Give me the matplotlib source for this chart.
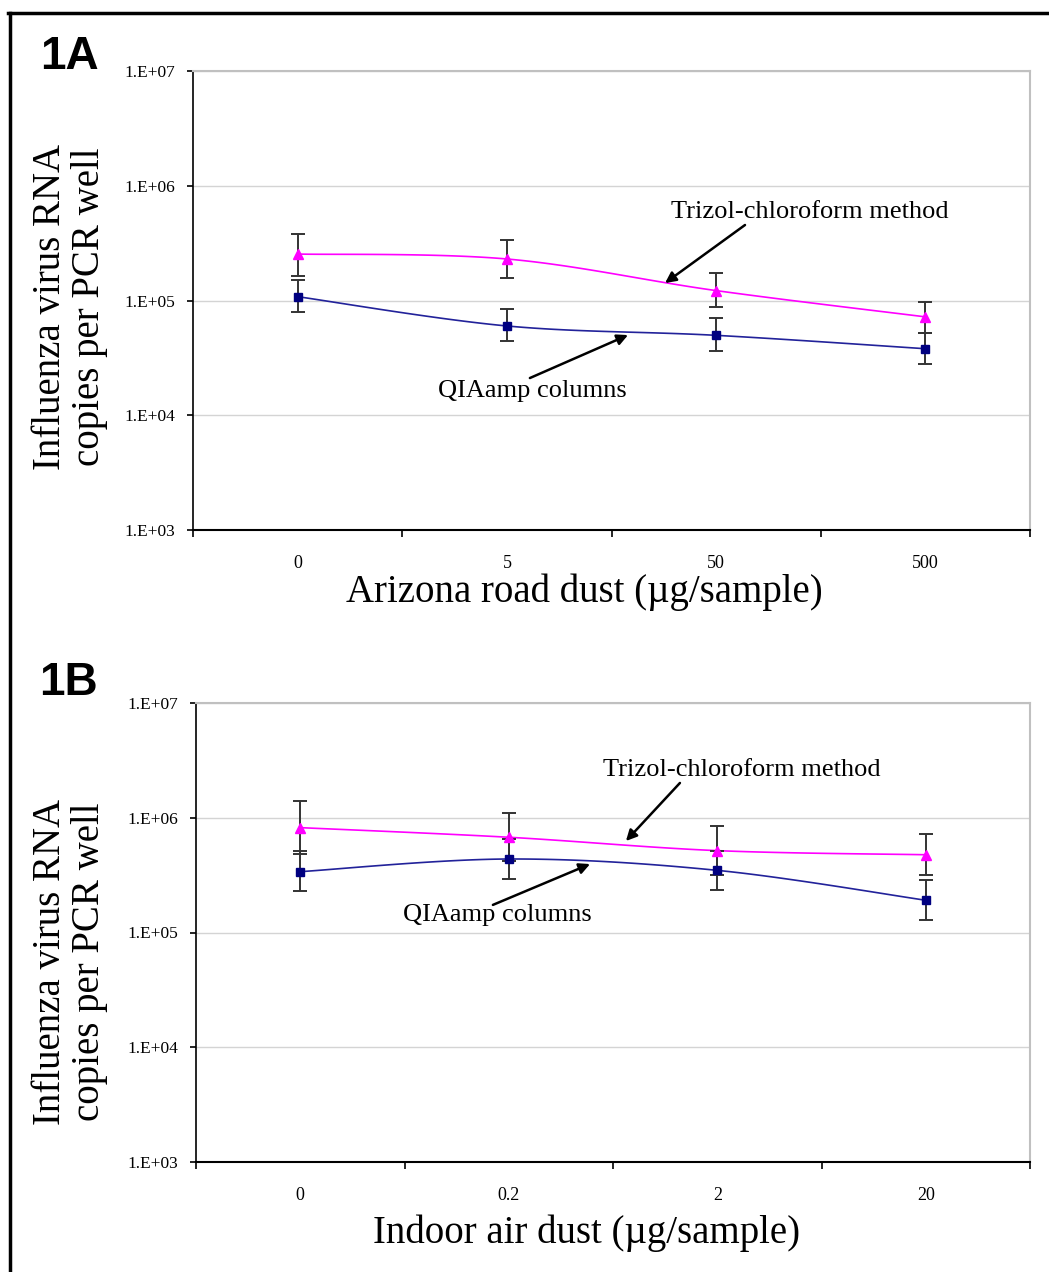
import numpy as np
import matplotlib
matplotlib.use('Agg')
import matplotlib.pyplot as plt
from matplotlib.lines import Line2D
from matplotlib.ticker import FixedLocator, FuncFormatter

plt.rcParams['font.family'] = ['Liberation Serif', 'DejaVu Serif']

# panel 1A - Arizona road dust
dust_a = ['0', '5', '50', '500']
trizol_a = [2.54e5, 2.30e5, 1.22e5, 7.2e4]
trizol_a_hi = [3.78e5, 3.37e5, 1.75e5, 9.8e4]
trizol_a_lo = [1.64e5, 1.57e5, 8.8e4, 5.2e4]
qia_a = [1.08e5, 6.0e4, 4.97e4, 3.8e4]
qia_a_hi = [1.51e5, 8.4e4, 7.0e4, 5.2e4]
qia_a_lo = [8.0e4, 4.46e4, 3.6e4, 2.78e4]

# panel 1B - indoor air dust
dust_b = ['0', '0.2', '2', '20']
trizol_b = [8.2e5, 6.76e5, 5.17e5, 4.76e5]
trizol_b_hi = [1.39e6, 1.1e6, 8.4e5, 7.26e5]
trizol_b_lo = [4.83e5, 4.2e5, 3.17e5, 3.16e5]
qia_b = [3.39e5, 4.37e5, 3.48e5, 1.91e5]
qia_b_hi = [5.1e5, 6.5e5, 5.14e5, 2.88e5]
qia_b_lo = [2.29e5, 2.93e5, 2.36e5, 1.29e5]

PINK = '#FF00FF'
NAVY = '#000080'


def smooth(x, y, n=40):
    # excel-style smoothed line (catmull-rom / bezier), done in log space
    x = np.asarray(x, float)
    ly = np.log10(np.asarray(y, float))
    pts = np.column_stack([x, ly])
    out = []
    for i in range(len(pts) - 1):
        p0 = pts[max(i - 1, 0)]
        p1 = pts[i]
        p2 = pts[i + 1]
        p3 = pts[min(i + 2, len(pts) - 1)]
        c1 = p1 + (p2 - p0) / 6.0
        c2 = p2 - (p3 - p1) / 6.0
        t = np.linspace(0, 1, n)[:, None]
        seg = ((1 - t) ** 3) * p1 + 3 * ((1 - t) ** 2) * t * c1 + 3 * (1 - t) * t ** 2 * c2 + t ** 3 * p2
        out.append(seg if i == 0 else seg[1:])
    out = np.vstack(out)
    return out[:, 0], 10 ** out[:, 1]


def draw_series(ax, y, lo, hi, color, marker, ms, line_color):
    x = np.arange(len(y))
    y = np.array(y)
    sx, sy = smooth(x, y)
    ax.plot(sx, sy, color=line_color, lw=1.2, zorder=3)
    ax.errorbar(x, y, yerr=[y - np.array(lo), np.array(hi) - y], fmt='none',
                ecolor='#333333', elinewidth=1.4, capsize=5, capthick=1.4, zorder=4)
    ax.plot(x, y, linestyle='none', marker=marker, ms=ms, color=color,
            markeredgecolor=color, zorder=5)


def setup_axes(ax, cats):
    ax.set_yscale('log')
    ax.set_ylim(1e3, 1e7)
    ax.set_xlim(-0.5, len(cats) - 0.5)
    ax.yaxis.set_major_locator(FixedLocator([1e3, 1e4, 1e5, 1e6, 1e7]))
    ax.yaxis.set_minor_locator(FixedLocator([]))
    ax.yaxis.set_major_formatter(FuncFormatter(lambda v, p: '1.E+%02d' % int(round(np.log10(v)))))
    ax.grid(axis='y', color='#d4d4d4', lw=1.0)
    ax.set_axisbelow(True)
    ax.set_xticks(range(len(cats)))
    ax.set_xticklabels(cats)
    ax.set_xticks(np.arange(-0.5, len(cats)), minor=True)
    ax.tick_params(axis='x', which='major', length=0, pad=18, labelsize=13)
    ax.tick_params(axis='x', which='minor', length=5, width=1.2, direction='out')
    ax.tick_params(axis='y', which='major', length=4.5, width=1.2, direction='out',
                   pad=8, labelsize=12.5)
    for s in ['top', 'right']:
        ax.spines[s].set_color('#c0c0c0')
        ax.spines[s].set_linewidth(1.5)
    ax.spines['left'].set_linewidth(1.2)
    ax.spines['bottom'].set_linewidth(1.5)


def note(ax, txt, text_xy, tail, head):
    ax.text(text_xy[0], text_xy[1], txt, ha='center', va='center', fontsize=19, zorder=6)
    ax.annotate('', xy=head, xytext=tail,
                arrowprops=dict(arrowstyle='-|>', color='black', lw=1.8, mutation_scale=16,
                                shrinkA=0, shrinkB=0), zorder=6)


W, H = 1049, 1272
fig = plt.figure(figsize=(W / 100, H / 100), dpi=100)

axA = fig.add_axes([193 / W, 1 - 530 / H, (1030 - 193) / W, 459 / H])
axB = fig.add_axes([196 / W, 1 - 1162 / H, (1030 - 196) / W, 459 / H])

setup_axes(axA, dust_a)
draw_series(axA, trizol_a, trizol_a_lo, trizol_a_hi, PINK, '^', 6.5, PINK)
draw_series(axA, qia_a, qia_a_lo, qia_a_hi, NAVY, 's', 6, '#22229a')
note(axA, 'Trizol-chloroform method', (2.449, 5.9e5), (2.138, 4.55e5), (1.756, 1.42e5))
note(axA, 'QIAamp columns', (1.120, 1.63e4), (1.110, 2.11e4), (1.579, 5.0e4))

setup_axes(axB, dust_b)
draw_series(axB, trizol_b, trizol_b_lo, trizol_b_hi, PINK, '^', 6.5, PINK)
draw_series(axB, qia_b, qia_b_lo, qia_b_hi, NAVY, 's', 6, '#22229a')
note(axB, 'Trizol-chloroform method', (2.119, 2.6e6), (1.821, 2.01e6), (1.562, 6.27e5))
note(axB, 'QIAamp columns', (0.944, 1.42e5), (0.924, 1.74e5), (1.39, 3.95e5))

# axis titles
fig.text(584 / W, 1 - 592 / H, 'Arizona road dust (\u00b5g/sample)', ha='center', va='center', fontsize=28)
fig.text(587 / W, 1 - 1233 / H, 'Indoor air dust (\u00b5g/sample)', ha='center', va='center', fontsize=28)
ylab = 'Influenza virus RNA\ncopies per PCR well'
fig.text(70 / W, 1 - 307 / H, ylab, rotation=90, ha='center', va='center', fontsize=28,
         linespacing=1.05)
fig.text(70 / W, 1 - 962 / H, ylab, rotation=90, ha='center', va='center', fontsize=28,
         linespacing=1.05)

# panel letters
fig.text(69 / W, 1 - 57 / H, '1A', ha='center', va='center', fontsize=33, fontweight='bold',
         family=['Liberation Sans', 'DejaVu Sans'])
fig.text(68 / W, 1 - 683 / H, '1B', ha='center', va='center', fontsize=33, fontweight='bold',
         family=['Liberation Sans', 'DejaVu Sans'])

# frame (top and left only, rest is cut off)
fig.add_artist(Line2D([8 / W, 1], [1 - 12.5 / H, 1 - 12.5 / H], transform=fig.transFigure,
                      color='black', lw=2.5))
fig.add_artist(Line2D([9.5 / W, 9.5 / W], [0, 1 - 12.5 / H], transform=fig.transFigure,
                      color='black', lw=2.5))

fig.savefig('out.png', dpi=100)
